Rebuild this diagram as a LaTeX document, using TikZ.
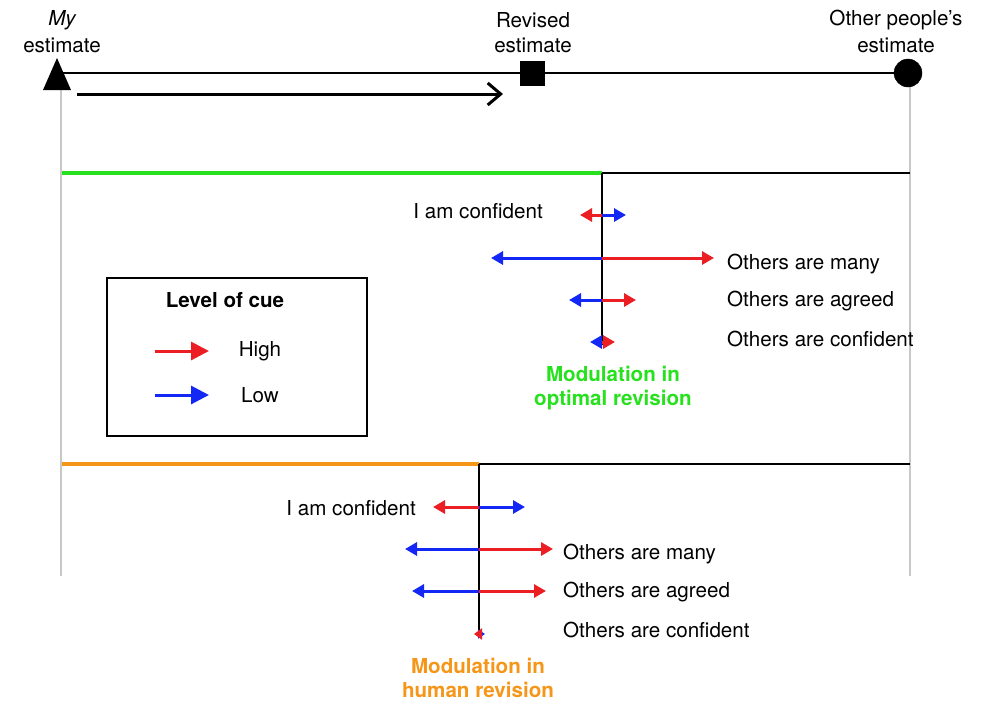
\documentclass[tikz,border=0pt]{standalone}
\usepackage{fontspec}
\setmainfont{TeX Gyre Heros}
\usepackage{tikz}
\usetikzlibrary{arrows.meta}

\definecolor{cuered}{RGB}{235,30,35}
\definecolor{cueblue}{RGB}{20,40,245}
\definecolor{optgreen}{RGB}{40,225,30}
\definecolor{humorange}{RGB}{245,150,25}
\definecolor{guide}{RGB}{200,200,200}

\tikzset{
  lbl/.style={font=\fontsize{20.6}{24}\selectfont, inner sep=0pt},
  title/.style={lbl, font=\fontsize{20.6}{24}\selectfont\bfseries},
  cue/.style={line width=3pt, -{Triangle[length=12pt,width=13pt]}},
  high/.style={cue, cuered},
  low/.style={cue, cueblue},
  axis/.style={line width=1.5pt},
}

\begin{document}
\begin{tikzpicture}[x=1pt, y=-1pt]
  \useasboundingbox (0,0) rectangle (1005,702);

  % estimates on the top line
  \coordinate(mine)  at (57,73);
  \coordinate(rev)   at (532,73);
  \coordinate(other) at (908,73);
  \draw[guide, line width=2pt] (61,90) -- (61,576) (910,87) -- (910,576);
  \draw[line width=2pt] (mine) -- (rev) -- (other);
  \fill (43,90) -- (71,90) -- (57,58) -- cycle;
  \node(revM)   at (rev)   [draw, fill, minimum size=24pt, inner sep=0pt] {};
  \node(otherM) at (other) [draw, fill, circle, minimum size=28pt, inner sep=0pt] {};
  \node[lbl](mineL)  at (62,20) {\itshape My};
  \node[lbl]         at (62,45) {estimate};
  \node[lbl](revL)   at (533,20) {Revised};
  \node[lbl]         at (533,45) {estimate};
  \node[lbl](otherL) at (896,20) {Other people’s};
  \node[lbl]         at (896,45) {estimate};

  \coordinate(s0) at (77,94);
  \coordinate(s1) at (503,94);
  \draw[line width=3pt, -{Straight Barb[length=13pt,width=22pt,line width=3pt]}] (s0) -- (s1);

  % optimal revision
  \coordinate(gA) at (62,173);
  \coordinate(gO) at (602,173);
  \coordinate(gB) at (910,173);
  \coordinate(gE) at (602,345);
  \draw[optgreen, line width=3.5pt] (gA) -- (gO);
  \draw[axis] (gO) -- (gB) (gO) -- (gE);

  \coordinate(g1) at (602,215);
  \coordinate(g2) at (602,258);
  \coordinate(g3) at (602,300);
  \coordinate(g4) at (602,342);
  \draw[high] (g1) -- (580,215);
  \draw[low]  (g1) -- (626,215);
  \draw[low]  (g2) -- (491,258);
  \draw[high] (g2) -- (714,258);
  \draw[low]  (g3) -- (569,300);
  \draw[high] (g3) -- (636,300);
  \draw[low]  (g4) -- (590,342);
  \draw[high] (g4) -- (615,342);

  \node[lbl, anchor=east](gL1) at (543,211) {I am confident};
  \node[lbl, anchor=west](gL2) at (727,264) {Others are many};
  \node[lbl, anchor=west](gL3) at (727,301) {Others are agreed};
  \node[lbl, anchor=west](gL4) at (727,339) {Others are confident};
  \node[title, optgreen, align=center](gT) at (613,388)
       {Modulation in\\optimal revision};

  % legend
  \node(key) at (237,357) [draw, line width=1.5pt, minimum width=260pt, minimum height=158pt] {};
  \node[title](keyT) at (225,300) {Level of cue};
  \coordinate(k1) at (155,351);
  \coordinate(k2) at (209,351);
  \coordinate(k3) at (155,395);
  \coordinate(k4) at (209,395);
  \draw[high, -{Triangle[length=18pt,width=18pt]}] (k1) -- (k2);
  \draw[low, -{Triangle[length=18pt,width=18pt]}]  (k3) -- (k4);
  \node[lbl](kH) at (260,351) {High};
  \node[lbl](kL) at (260,395) {Low};

  % human revision
  \coordinate(hA) at (62,464);
  \coordinate(hO) at (479,464);
  \coordinate(hB) at (910,464);
  \coordinate(hE) at (479,634);
  \draw[humorange, line width=3.5pt] (hA) -- (hO);
  \draw[axis] (hO) -- (hB) (hO) -- (hE);

  \coordinate(h1) at (479,507);
  \coordinate(h2) at (479,549);
  \coordinate(h3) at (479,591);
  \coordinate(h4) at (479,634);
  \draw[high] (h1) -- (433,507);
  \draw[low]  (h1) -- (525,507);
  \draw[low]  (h2) -- (405,549);
  \draw[high] (h2) -- (553,549);
  \draw[low]  (h3) -- (412,591);
  \draw[high] (h3) -- (546,591);
  \draw[low, -{Triangle[length=7pt,width=9pt]}]  (h4) -- (485,634);
  \draw[high, -{Triangle[length=8pt,width=11pt]}] (h4) -- (474,634);

  \node[lbl, anchor=east](hL1) at (416,508) {I am confident};
  \node[lbl, anchor=west](hL2) at (563,554) {Others are many};
  \node[lbl, anchor=west](hL3) at (563,592) {Others are agreed};
  \node[lbl, anchor=west](hL4) at (563,630) {Others are confident};
  \node[title, humorange, align=center](hT) at (478,678)
       {Modulation in\\human revision};
\end{tikzpicture}
\end{document}
